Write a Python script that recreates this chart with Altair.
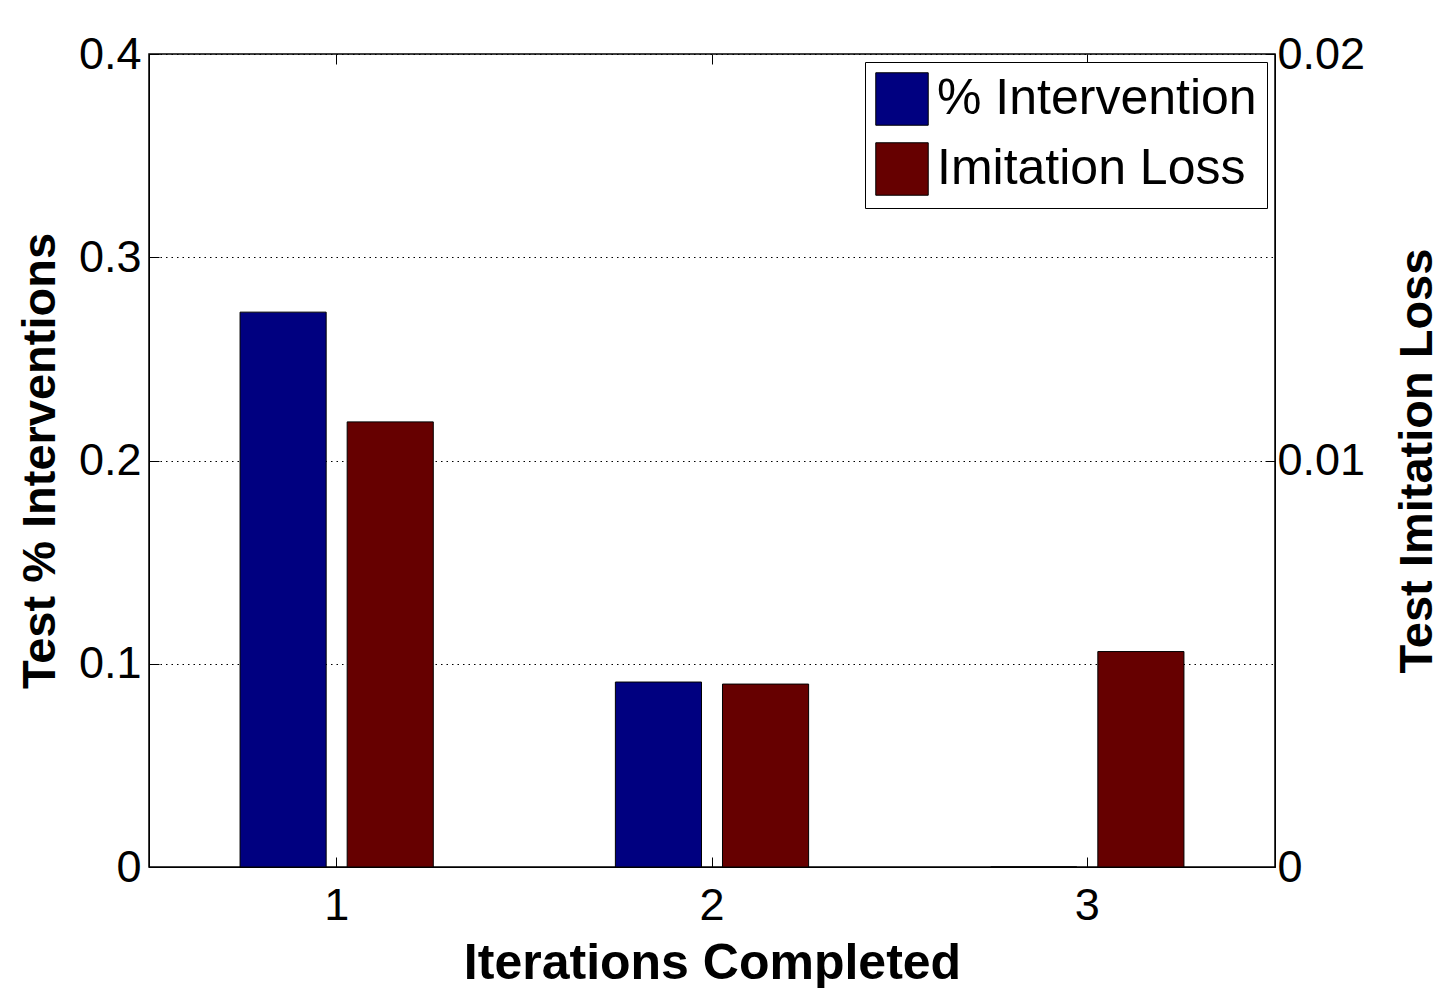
import altair as alt
import pandas as pd

iterations = [1, 2, 3]
pct_intervention = [0.273, 0.091, 0.0]
imitation_loss = [0.01095, 0.0045, 0.0053]
series_names = ["% Intervention", "Imitation Loss"]
series_colors = ["#000080", "#660000"]
left_ticks = [0, 0.1, 0.2, 0.3, 0.4]
right_ticks = [0, 0.01, 0.02]

df_int = pd.DataFrame({"Iteration": iterations, "Value": pct_intervention, "Series": series_names[0]})
df_loss = pd.DataFrame({"Iteration": iterations, "Value": imitation_loss, "Series": series_names[1]})

FONT = "Liberation Sans"
inward = {"expr": "-10"}

x_scale = alt.Scale(paddingInner=0, paddingOuter=0)
xo = alt.XOffset("Series:N", scale=alt.Scale(domain=series_names, paddingInner=0.196, paddingOuter=0.85))
color = alt.Color(
    "Series:N",
    scale=alt.Scale(domain=series_names, range=series_colors),
    legend=alt.Legend(
        title=None, orient="top-right", offset=8,
        fillColor="white", strokeColor="black", padding=10,
        symbolType="square", symbolSize=2750, symbolStrokeColor="black",
        symbolStrokeWidth=1, symbolOpacity=1,
        labelFontSize=50, labelFont=FONT, labelColor="black", labelLimit=0,
        rowPadding=12, labelOffset=8,
    ),
)

left = alt.Chart(df_int).mark_bar(stroke="black", strokeWidth=1).encode(
    x=alt.X("Iteration:O", scale=x_scale, axis=alt.Axis(
        title="Iterations Completed", labelAngle=0, orient="bottom",
        tickSize=inward, tickColor="black", domainColor="black",
        labelPadding=26, titlePadding=10, titleFontSize=50)),
    xOffset=xo,
    y=alt.Y("Value:Q", scale=alt.Scale(domain=[0, 0.4], nice=False), axis=alt.Axis(
        title="Test % Interventions", values=left_ticks, format="~g", orient="left",
        grid=True, gridDash=[1.5, 4], gridColor="black", gridOpacity=1,
        tickSize=inward, tickColor="black", domainColor="black",
        labelPadding=18, titlePadding=14)),
    color=color,
)

right = alt.Chart(df_loss).mark_bar(stroke="black", strokeWidth=1).encode(
    x=alt.X("Iteration:O", scale=x_scale, axis=alt.Axis(
        title=None, labels=False, orient="top", domain=False,
        tickSize=inward, tickColor="black")),
    xOffset=xo,
    y=alt.Y("Value:Q", scale=alt.Scale(domain=[0, 0.02], nice=False), axis=alt.Axis(
        title="Test Imitation Loss", values=right_ticks, format="~g", orient="right",
        grid=False, titleAngle=270, titleBaseline="top",
        tickSize=inward, tickColor="black", domainColor="black",
        labelPadding=12, titlePadding=30)),
    color=color,
)

chart = alt.layer(left, right).resolve_scale(y="independent").resolve_axis(x="independent").properties(
    width=1126, height=813, background="white",
    padding={"top": 24, "left": 8, "right": 0, "bottom": 0}
).configure_view(stroke="black", strokeWidth=1.5).configure_axis(
    labelFont=FONT, labelFontSize=45, labelColor="black",
    titleFont=FONT, titleFontSize=47, titleFontWeight="bold", titleColor="black",
)

chart.save("out.html", embed_options={"renderer": "svg", "actions": False})
